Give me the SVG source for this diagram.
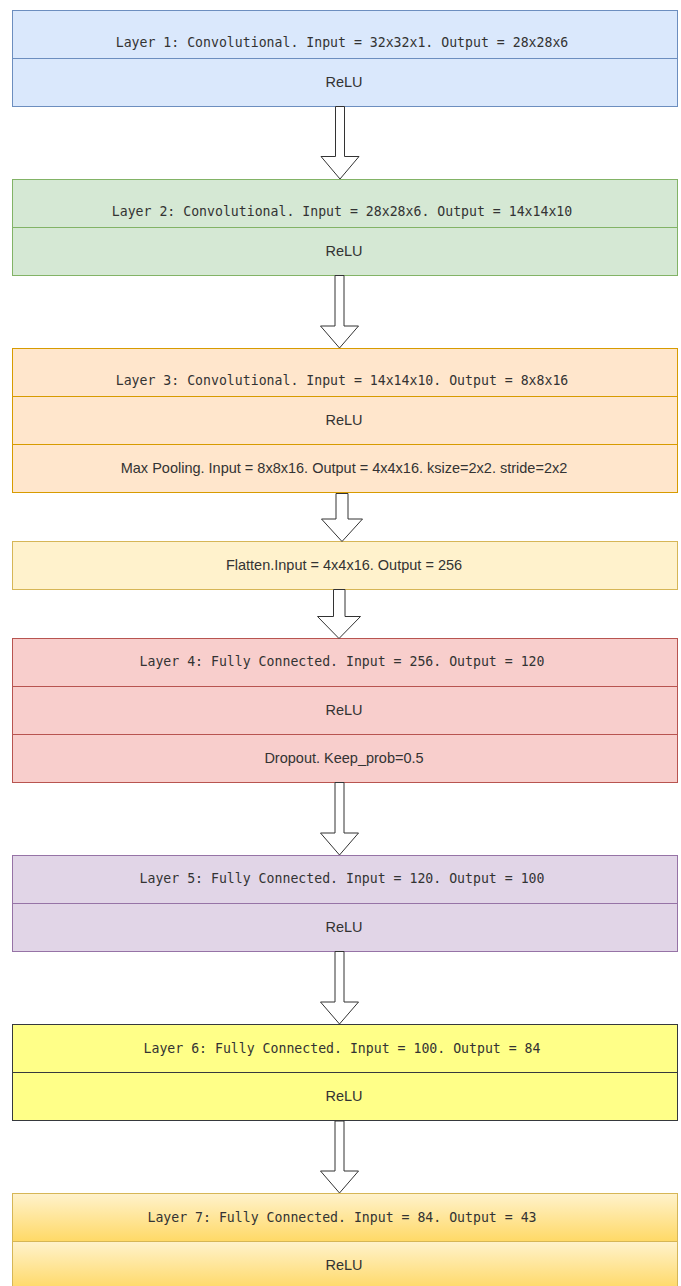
<svg xmlns="http://www.w3.org/2000/svg" width="681" height="1286" viewBox="0 0 681 1286">
  <defs>
    <linearGradient id="gold" x1="0" y1="0" x2="0" y2="1">
      <stop offset="0" stop-color="#fff2cc"/>
      <stop offset="1" stop-color="#ffd966"/>
    </linearGradient>
    <style>
      .cell { stroke-width: 1; }
      .blue   { fill: #dae8fc; stroke: #6c8ebf; }
      .green  { fill: #d5e8d4; stroke: #82b366; }
      .orange { fill: #ffe6cc; stroke: #d79b00; }
      .cream  { fill: #fff2cc; stroke: #d6b656; }
      .red    { fill: #f8cecc; stroke: #b85450; }
      .purple { fill: #e1d5e7; stroke: #9673a6; }
      .yellow { fill: #ffff88; stroke: #36393d; }
      .gold   { fill: url(#gold); stroke: #d6b656; }
      .mono { font-family: "DejaVu Sans Mono", "Liberation Mono", monospace; font-size: 13.2px; fill: #333333; text-anchor: middle; }
      .sans { font-family: "Liberation Sans", Arial, sans-serif; font-size: 14.5px; fill: #333333; text-anchor: middle; }
      .arrow { fill: #ffffff; stroke: #333333; stroke-width: 1; stroke-linejoin: miter; }
    </style>
  </defs>

  <rect x="0" y="0" width="681" height="1286" fill="#ffffff"/>

  <!-- Layer 1 -->
  <g id="layer1">
    <rect class="cell blue" x="12.5" y="10.5" width="665" height="48"/>
    <rect class="cell blue" x="12.5" y="58.5" width="665" height="48"/>
    <text class="mono" x="342" y="47">Layer 1: Convolutional. Input = 32x32x1. Output = 28x28x6</text>
    <text class="sans" x="344" y="87">ReLU</text>
  </g>

  <!-- Layer 2 -->
  <g id="layer2">
    <rect class="cell green" x="12.5" y="179.5" width="665" height="48"/>
    <rect class="cell green" x="12.5" y="227.5" width="665" height="48"/>
    <text class="mono" x="342" y="216">Layer 2: Convolutional. Input = 28x28x6. Output = 14x14x10</text>
    <text class="sans" x="344" y="256">ReLU</text>
  </g>

  <!-- Layer 3 with pooling -->
  <g id="layer3">
    <rect class="cell orange" x="12.5" y="348.5" width="665" height="48"/>
    <rect class="cell orange" x="12.5" y="396.5" width="665" height="48"/>
    <rect class="cell orange" x="12.5" y="444.5" width="665" height="48"/>
    <text class="mono" x="342" y="385">Layer 3: Convolutional. Input = 14x14x10. Output = 8x8x16</text>
    <text class="sans" x="344" y="425">ReLU</text>
    <text class="sans" x="344" y="473">Max Pooling. Input = 8x8x16. Output = 4x4x16. ksize=2x2. stride=2x2</text>
  </g>

  <!-- Flatten -->
  <g id="flatten">
    <rect class="cell cream" x="12.5" y="541.5" width="665" height="48"/>
    <text class="sans" x="344" y="570">Flatten.Input = 4x4x16. Output = 256</text>
  </g>

  <!-- Layer 4 with dropout -->
  <g id="layer4">
    <rect class="cell red" x="12.5" y="638.5" width="665" height="48"/>
    <rect class="cell red" x="12.5" y="686.5" width="665" height="48"/>
    <rect class="cell red" x="12.5" y="734.5" width="665" height="48"/>
    <text class="mono" x="342" y="666">Layer 4: Fully Connected. Input = 256. Output = 120</text>
    <text class="sans" x="344" y="715">ReLU</text>
    <text class="sans" x="344" y="763">Dropout. Keep_prob=0.5</text>
  </g>

  <!-- Layer 5 -->
  <g id="layer5">
    <rect class="cell purple" x="12.5" y="855.5" width="665" height="48"/>
    <rect class="cell purple" x="12.5" y="903.5" width="665" height="48"/>
    <text class="mono" x="342" y="883">Layer 5: Fully Connected. Input = 120. Output = 100</text>
    <text class="sans" x="344" y="932">ReLU</text>
  </g>

  <!-- Layer 6 -->
  <g id="layer6">
    <rect class="cell yellow" x="12.5" y="1024.5" width="665" height="48"/>
    <rect class="cell yellow" x="12.5" y="1072.5" width="665" height="48"/>
    <text class="mono" x="342" y="1052.5">Layer 6: Fully Connected. Input = 100. Output = 84</text>
    <text class="sans" x="344" y="1101">ReLU</text>
  </g>

  <!-- Layer 7 -->
  <g id="layer7">
    <rect class="cell gold" x="12.5" y="1193.5" width="665" height="48"/>
    <rect class="cell gold" x="12.5" y="1241.5" width="665" height="48"/>
    <text class="mono" x="342" y="1222">Layer 7: Fully Connected. Input = 84. Output = 43</text>
    <text class="sans" x="344" y="1269.5">ReLU</text>
  </g>

  <!-- Block arrows between stages -->
  <g id="connectors">
    <path class="arrow" d="M335.5,106.5 V156.5 H321 L340,179 L359,156.5 H344.5 V106.5 Z"/>
    <path class="arrow" d="M335,275.5 V326 H320.5 L339.5,348 L358.5,326 H344 V275.5 Z"/>
    <path class="arrow" d="M336,493.5 V519 H321.5 L342,541.5 L362.5,519 H348 V493.5 Z"/>
    <path class="arrow" d="M333.5,589.5 V616.5 H317.5 L339,638.5 L360.5,616.5 H345 V589.5 Z"/>
    <path class="arrow" d="M335,782.5 V833 H320.5 L339.5,855 L358.5,833 H344 V782.5 Z"/>
    <path class="arrow" d="M335,951.5 V1002 H320.5 L339.5,1024 L358.5,1002 H344 V951.5 Z"/>
    <path class="arrow" d="M335,1121 V1171 H320.5 L339.5,1193 L358.5,1171 H344 V1121 Z"/>
  </g>
</svg>
